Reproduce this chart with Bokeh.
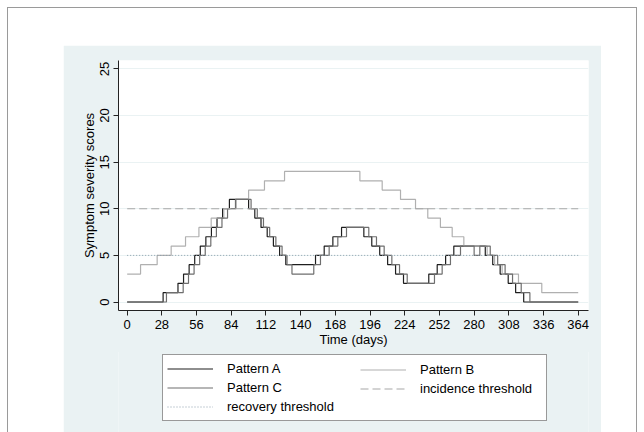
from bokeh.plotting import figure
from bokeh.models import Legend, LegendItem, Range1d, FixedTicker
from bokeh.layouts import column
from bokeh.embed import file_html
from bokeh.resources import INLINE

# ---- data ----
# step series: day at which the score changes, and the score from that day on
days_a = [0, 29, 41, 45.5, 50, 54.5, 59, 63.5, 68, 72.5, 77, 82.5, 98, 103, 108, 113, 118, 123, 128,
          152, 159, 166, 173, 191, 197.4, 203.8, 210.2, 216.6, 223, 243.4, 250.2, 257, 263.6,
          289, 295, 301, 307.5, 313.5, 320, 364]
score_a = [0, 1, 2, 3, 4, 5, 6, 7, 8, 9, 10, 11, 10, 9, 8, 7, 6, 5, 4,
           5, 6, 7, 8, 7, 6, 5, 4, 3, 2, 3, 4, 5, 6,
           5, 4, 3, 2, 1, 0, 0]

days_b = [0, 10.8, 24.2, 35.5, 47.1, 57.9, 67.8, 78, 88, 98, 110.8, 127, 187.8, 205.8, 220.6,
          232.7, 242.6, 252.8, 262.3, 271.7, 290.5, 296.5, 302.6, 315.8, 334.6, 364]
score_b = [3, 4, 5, 6, 7, 8, 9, 10, 11, 12, 13, 14, 13, 12, 11,
           10, 9, 8, 7, 6, 5, 4, 3, 2, 1, 1]

days_c = [0, 31.7, 45.2, 49.5, 54, 58.5, 63, 67.5, 72, 76.5, 81, 87.4, 100, 105, 110, 115, 120, 125, 129, 133,
          150.6, 156, 163, 170, 177, 195, 201.2, 207.4, 213.6, 219.8, 226, 248, 254.2, 260.9, 269,
          280, 284.6, 293, 299, 305, 311, 318, 325, 364]
score_c = [0, 1, 2, 3, 4, 5, 6, 7, 8, 9, 10, 11, 10, 9, 8, 7, 6, 5, 4, 3,
           4, 5, 6, 7, 8, 7, 6, 5, 4, 3, 2, 3, 4, 5, 6,
           5, 6, 5, 4, 3, 2, 1, 0, 0]

threshold_days = [0, 364]
incidence_threshold = 10
recovery_threshold = 5

x_ticks = list(range(0, 365, 28))
y_ticks = [0, 5, 10, 15, 20, 25]

FONT = "Liberation Sans"
BG = "#EAF2F3"
COL_A, COL_B, COL_C = "#1e1e1e", "#b0b0b0", "#6e6e6e"
COL_INC, COL_REC = "#a8a8a8", "#8c9fad"
NAN = float("nan")

# ---- main plot ----
p = figure(width=538, height=307, output_backend="svg", toolbar_location=None,
           x_range=Range1d(-7, 372.3), y_range=Range1d(-0.91, 25.9),
           min_border_left=55, min_border_right=13, min_border_top=15, min_border_bottom=42,
           background_fill_color="white", border_fill_color=BG,
           outline_line_color=None, margin=(37, 0, 0, 55))

p.step(days_a, score_a, mode="after", line_color=COL_A, line_width=1.2)
p.step(days_b, score_b, mode="after", line_color=COL_B, line_width=1.2)
p.step(days_c, score_c, mode="after", line_color=COL_C, line_width=1.2)
p.line(threshold_days, [incidence_threshold] * 2, line_color=COL_INC, line_width=1.2, line_dash="8 4")
p.line(threshold_days, [recovery_threshold] * 2, line_color=COL_REC, line_width=1.0, line_dash="1 2")

p.xaxis.ticker = FixedTicker(ticks=x_ticks)
p.yaxis.ticker = FixedTicker(ticks=y_ticks)
p.xgrid.grid_line_color = None
p.ygrid.grid_line_color = BG
p.ygrid.grid_line_width = 1

for ax in (p.xaxis[0], p.yaxis[0]):
    ax.axis_line_color = "#222222"
    ax.major_tick_line_color = "#222222"
    ax.minor_tick_line_color = None
    ax.major_tick_in = 0
    ax.major_tick_out = 5
    ax.major_label_text_font = FONT
    ax.major_label_text_font_size = "13px"
    ax.major_label_text_color = "#000000"
    ax.axis_label_text_font = FONT
    ax.axis_label_text_font_size = "13px"
    ax.axis_label_text_font_style = "normal"
    ax.axis_label_text_color = "#000000"

p.xaxis.axis_label = "Time (days)"
p.yaxis.axis_label = "Symptom severity scores"
p.yaxis.major_label_orientation = "vertical"
p.xaxis.major_label_standoff = 4
p.xaxis.axis_label_standoff = 0
p.yaxis.major_label_standoff = 4
p.yaxis.axis_label_standoff = 1

# ---- legend panel (same horizontal borders as the plot, so the frames line up) ----
lg = figure(width=538, height=81, output_backend="svg", toolbar_location=None,
            x_axis_location=None, y_axis_location=None,
            min_border_left=55, min_border_right=13, min_border_top=0, min_border_bottom=0,
            background_fill_color=BG, border_fill_color=BG,
            outline_line_color=None, margin=(-1, 0, 0, 55))
lg.xgrid.grid_line_color = None
lg.ygrid.grid_line_color = None

ka = lg.line([NAN], [NAN], line_color=COL_A, line_width=1.2)
kb = lg.line([NAN], [NAN], line_color=COL_B, line_width=1.2)
kc = lg.line([NAN], [NAN], line_color=COL_C, line_width=1.2)
ki = lg.line([NAN], [NAN], line_color=COL_INC, line_width=1.2, line_dash="8 4")
kr = lg.line([NAN], [NAN], line_color=COL_REC, line_width=1.0, line_dash="1 2")


def style(leg):
    leg.label_text_font = FONT
    leg.label_text_font_size = "13px"
    leg.label_text_color = "#000000"
    leg.glyph_width = 46
    leg.glyph_height = 19
    leg.label_height = 19
    leg.label_standoff = 14
    leg.spacing = 0
    leg.margin = 0


leg1 = Legend(items=[LegendItem(label="Pattern A", renderers=[ka]),
                     LegendItem(label="Pattern C", renderers=[kc]),
                     LegendItem(label="recovery threshold", renderers=[kr])],
              location=(44, 11))
style(leg1)
leg1.padding = 4
leg1.label_width = 315
leg1.border_line_color = "#333333"
leg1.border_line_width = 1
leg1.background_fill_color = "white"
leg1.background_fill_alpha = 1

leg2 = Legend(items=[LegendItem(label="Pattern B", renderers=[kb]),
                     LegendItem(label="incidence threshold", renderers=[ki])],
              location=(242, 34))
style(leg2)
leg2.border_line_color = None
leg2.background_fill_alpha = 0

lg.add_layout(leg1, "center")
lg.add_layout(leg2, "center")

page = column(p, lg, margin=(7, 0, 0, 7), width=630, height=440, spacing=0,
              styles={"border": "1px solid #9a9a9a", "background-color": "white",
                      "box-sizing": "border-box"})

open("out.html", "w").write(file_html(page, INLINE))
